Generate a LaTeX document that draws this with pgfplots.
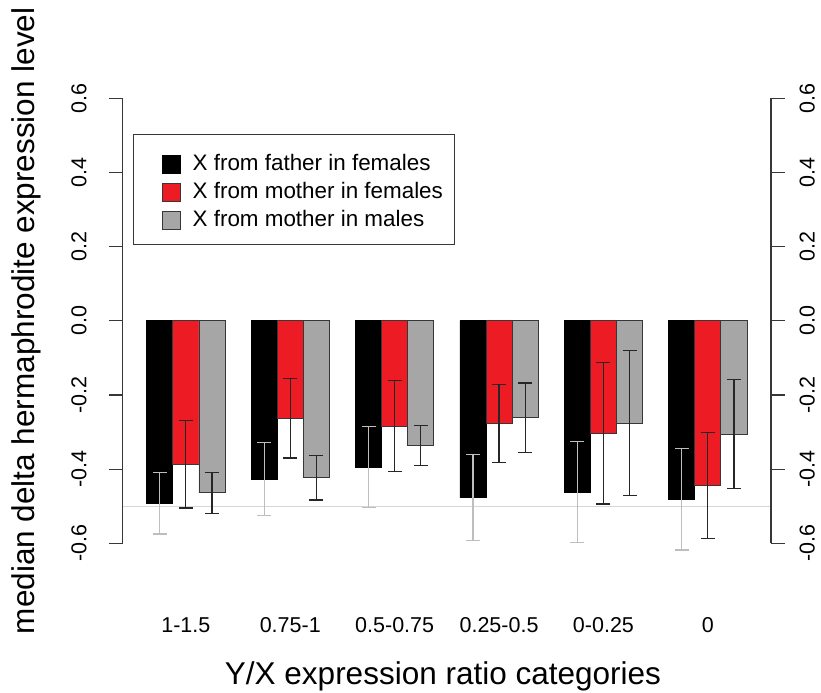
\documentclass[border=0pt]{standalone}
\usepackage{pgfplots}
\usepackage{pgfplotstable}
\pgfplotsset{compat=1.18}
\usepackage{fontspec}
\setmainfont{Liberation Sans}
\definecolor{barred}{RGB}{237,28,36}
\definecolor{bargray}{RGB}{166,166,166}
\definecolor{errgray}{RGB}{190,190,190}
\definecolor{axisgray}{RGB}{55,55,55}
\definecolor{refline}{RGB}{215,215,215}

\pgfplotstableread{
x y e
1.5 -0.492 0.083
5.5 -0.427 0.098
9.5 -0.395 0.109
13.5 -0.477 0.1155
17.5 -0.462 0.136
21.5 -0.481 0.137
}\blackdata
\pgfplotstableread{
x y e
2.5 -0.387 0.118
6.5 -0.2625 0.1075
10.5 -0.284 0.123
14.5 -0.2775 0.105
18.5 -0.303 0.191
22.5 -0.445 0.143
}\reddata
\pgfplotstableread{
x y e
3.5 -0.464 0.055
7.5 -0.423 0.060
11.5 -0.337 0.054
15.5 -0.2615 0.094
19.5 -0.2756 0.195
23.5 -0.306 0.147
}\graydata

\newcommand\ls{\rule{0pt}{21bp}}
\pgfplotsset{common/.style={
  scale only axis, width=648.3bp, height=445bp,
  xmin=0.08, xmax=24.92, ymin=-0.6, ymax=0.6,
  at={(0,0)}, anchor=south west, clip=false,
  ytick={-0.6,-0.4,-0.2,0,0.2,0.4,0.6},
  yticklabels={{-0.6},{-0.4},{-0.2},{0.0},{0.2},{0.4},{0.6}},
  y axis line style={axisgray, line width=1.2bp},
  ytick style={axisgray, line width=1.2bp},
  tick align=outside, major tick length=13.7bp,
}}

\begin{document}
\begin{tikzpicture}
\begin{axis}[common,
  axis x line*=bottom, x axis line style={draw=none},
  xtick={2.5,6.5,10.5,14.5,18.5,22.5},
  xticklabels={1-1.5,0.75-1,0.5-0.75,0.25-0.5,0-0.25,0},
  xtick style={draw=none},
  xticklabel style={font=\fontsize{21.5bp}{25bp}\selectfont, anchor=base, yshift=-75bp},
  axis y line*=left,
  yticklabel style={font=\fontsize{21.5bp}{25bp}\selectfont, inner sep=0pt, xshift=-22.5bp, rotate=90, anchor=base},
  xlabel={Y/X expression ratio categories},
  xlabel style={at={(axis description cs:0.494,-0.3184)}, anchor=base, font=\fontsize{31.5bp}{36bp}\selectfont},
  ylabel={median delta hermaphrodite expression level},
  ylabel style={at={(axis description cs:-0.1353,0.5)}, anchor=base, inner sep=0pt, font=\fontsize{31.5bp}{36bp}\selectfont},
  legend style={at={(axis description cs:0.01635,0.919)}, anchor=north west,
    draw=axisgray, line width=1bp, inner xsep=12bp, inner ysep=15bp,
    row sep=3.8bp, font=\fontsize{22.4bp}{26bp}\selectfont,
    nodes={inner sep=0pt}},
  legend cell align=left,
  legend image code/.code={
    \path (0bp,0bp) (46.1bp,0bp);
    \draw[#1, line width=0.8bp] (15.7bp,-12.5bp) rectangle (33.7bp,5.5bp);},
]
\addplot[refline, line width=1.2bp, no marks, forget plot] coordinates {(0.08,-0.5) (24.92,-0.5)};

\addplot[ybar, bar width=1, bar shift=0pt, fill=black, draw=black, line width=0.8bp,
  error bars/.cd, y dir=both, y explicit, error mark=|,
  error bar style={errgray, line width=1.2bp},
  error mark options={errgray, line width=1.2bp, mark size=7bp}]
  table[x=x, y=y, y error=e] {\blackdata};
\addlegendentry{\ls X from father in females}

\addplot[ybar, bar width=1, bar shift=0pt, fill=barred, draw=axisgray, line width=0.8bp,
  error bars/.cd, y dir=both, y explicit, error mark=|,
  error bar style={black!85, line width=1.2bp},
  error mark options={black!85, line width=1.2bp, mark size=7bp}]
  table[x=x, y=y, y error=e] {\reddata};
\addlegendentry{\ls X from mother in females}

\addplot[ybar, bar width=1, bar shift=0pt, fill=bargray, draw=axisgray, line width=0.8bp,
  error bars/.cd, y dir=both, y explicit, error mark=|,
  error bar style={black!85, line width=1.2bp},
  error mark options={black!85, line width=1.2bp, mark size=7bp}]
  table[x=x, y=y, y error=e] {\graydata};
\addlegendentry{\ls X from mother in males}
\end{axis}

\begin{axis}[common,
  axis x line=none,
  axis y line*=right,
  yticklabel style={font=\fontsize{21.5bp}{25bp}\selectfont, inner sep=0pt, xshift=30bp, rotate=90, anchor=base},
]
\end{axis}
\pgfresetboundingbox
\path[use as bounding box] (-122.7bp,-149.7bp) rectangle (698.3bp,543.3bp);
\end{tikzpicture}
\end{document}
